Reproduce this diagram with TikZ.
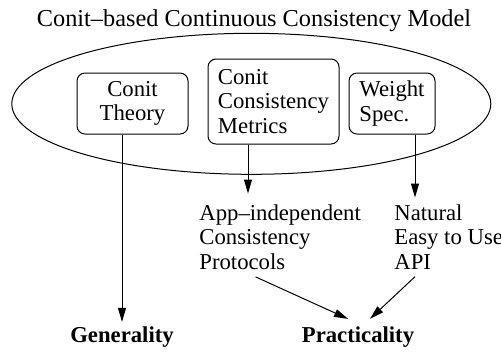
\documentclass[tikz,border=0pt]{standalone}
\usepackage{fontspec}
\setmainfont{Liberation Serif}
\usepackage{tikz}
\usetikzlibrary{shapes,arrows.meta,positioning,calc}

\newcommand{\figfont}{\fontsize{11.4}{12.2}\selectfont}

\tikzset{
    part/.style={draw, rounded corners=4bp, inner sep=0pt, line width=0.5bp},
    plain/.style={inner sep=0pt, align=left},
    goal/.style={inner sep=2bp, font=\figfont\bfseries},
    link/.style={line width=0.5bp, -{Triangle[length=7bp,width=4bp]}}
}

\begin{document}
\begin{tikzpicture}[x=0.5bp, y=-0.5bp, font=\figfont]
    \useasboundingbox (0,0) rectangle (501,358);

    % Model
    \node[anchor=base, font=\fontsize{12.2}{13}\selectfont] (title) at (254,26) {Conit–based Continuous Consistency Model};
    \node[draw, ellipse, line width=0.5bp, inner sep=0pt,
          minimum width=239.5bp, minimum height=70.5bp] (model) at (251.3,103.8) {};

    % Building blocks
    \node[part, align=center, minimum width=55.5bp, minimum height=30.5bp] (theory) at (132.5,103.5) {Conit\\Theory};
    \node[part, align=left, minimum width=65.5bp, minimum height=42.5bp] (metrics) at (273.5,101.5) {Conit\\Consistency\\Metrics};
    \node[part, align=left, minimum width=43bp, minimum height=30.5bp] (weight) at (392,103.5) {Weight\\Spec.};

    % What they give
    \node[plain, anchor=north west] (protocols) at (199,204.5) {App–independent\\Consistency\\Protocols};
    \node[plain, anchor=north west] (api) at (394,204.5) {Natural\\Easy to Use\\API};

    % Goals
    \node[goal, anchor=base] (generality) at (122,342) {Generality};
    \node[goal, anchor=base] (practicality) at (358,342) {Practicality};

    \coordinate (mx) at (248,0);
    \coordinate (wx) at (415,0);

    \draw[link] (theory.south -| generality.north) -- (generality.north);
    \draw[link, shorten >=5.5bp] (metrics.south -| mx) -- (protocols.north -| mx);
    \draw[link, shorten >=3.5bp] (weight.south -| wx) -- (api.north -| wx);
    \draw[link] ([shift={(-24.5,7)}]protocols.south) -- ([shift={(-10,-3)}]practicality.north);
    \draw[link] ([shift={(0,7)}]api.south -| wx) -- ([shift={(12,-3)}]practicality.north);
\end{tikzpicture}
\end{document}
